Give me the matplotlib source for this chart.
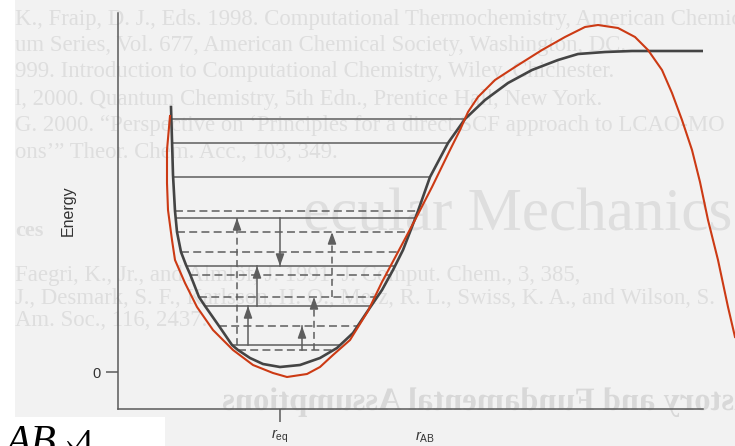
import numpy as np
import matplotlib.pyplot as plt
from matplotlib.patches import Rectangle, PathPatch
from matplotlib.textpath import TextPath
from matplotlib.font_manager import FontProperties
from matplotlib.transforms import Affine2D

plt.rcParams['mathtext.fontset'] = 'custom'
plt.rcParams['mathtext.rm'] = 'Liberation Sans'
plt.rcParams['mathtext.it'] = 'Liberation Sans:italic'

# potential energy curve (r, E)
r_curve = [0.53, 0.54, 0.55, 0.57, 0.59, 0.63, 0.68, 0.72, 0.81, 0.87, 1.01, 1.14, 1.20, 1.32, 1.45, 1.62,
           1.82, 2.02, 2.19, 2.35, 2.49, 2.64, 2.75, 2.85, 2.92, 3.00, 3.12, 3.30, 3.47, 3.67, 3.90, 4.14,
           4.40, 4.60, 4.87, 5.14, 5.86]
e_curve = [2.65, 2.32, 1.97, 1.61, 1.40, 1.20, 1.07, 0.98, 0.75, 0.66, 0.46, 0.27, 0.22, 0.14, 0.08, 0.05,
           0.07, 0.14, 0.24, 0.39, 0.60, 0.82, 1.02, 1.22, 1.40, 1.61, 1.95, 2.29, 2.53, 2.72, 2.89, 3.02,
           3.12, 3.18, 3.20, 3.21, 3.21]
i_min = 15

# red fitted curve
r_fit = [0.52, 0.49, 0.49, 0.50, 0.54, 0.57, 0.67, 0.79, 0.95, 1.15, 1.35, 1.55, 1.69, 1.89, 2.02, 2.15,
         2.32, 2.50, 2.64, 2.80, 2.97, 3.14, 3.32, 3.42, 3.50, 3.60, 3.77, 3.97, 4.24, 4.47, 4.67, 4.80,
         5.00, 5.17, 5.30, 5.44, 5.54, 5.64, 5.74, 5.82, 5.90, 6.00, 6.10, 6.17]
e_fit = [2.56, 2.22, 1.89, 1.62, 1.32, 1.12, 0.89, 0.65, 0.42, 0.22, 0.07, -0.01, -0.05, -0.02, 0.05, 0.17,
         0.32, 0.61, 0.90, 1.20, 1.52, 1.85, 2.22, 2.42, 2.60, 2.75, 2.92, 3.05, 3.22, 3.35, 3.45, 3.47,
         3.44, 3.35, 3.22, 3.02, 2.79, 2.52, 2.22, 1.90, 1.52, 1.12, 0.65, 0.35]

levels_solid = [2.53, 2.29, 1.95, 1.54, 1.06, 0.66, 0.27]
levels_dashed = [1.61, 1.40, 1.20, 0.97, 0.75, 0.46, 0.22]

# transitions: position, start level, end level, dashed?
arrow_r = [1.19, 1.62, 2.14, 1.39, 1.30, 1.96, 1.84]
arrow_from = [0.27, 1.54, 0.75, 0.66, 0.27, 0.22, 0.22]
arrow_to = [1.54, 1.06, 1.40, 1.06, 0.66, 0.75, 0.46]
arrow_dashed = [True, False, True, False, False, True, False]

r_eq = 1.62
r_ab = 3.07

W, H = 735, 446
fig = plt.figure(figsize=(7.35, 4.46), dpi=100)
fig.patch.set_facecolor('white')

# scanned page background
fig.add_artist(Rectangle((15 / W, 0), 1, 1, transform=fig.transFigure,
                         facecolor='#f2f2f2', edgecolor='none', zorder=-10))
fig.add_artist(Rectangle((0, 0), 165 / W, 29 / H, transform=fig.transFigure,
                         facecolor='white', edgecolor='none', zorder=-9))

faint = '#dedede'
page_lines = [
    (15, 20, "K., Fraip, D. J., Eds. 1998. Computational Thermochemistry, American Chemical"),
    (15, 46, "um Series, Vol. 677, American Chemical Society, Washington, DC."),
    (15, 72, "999. Introduction to Computational Chemistry, Wiley, Chichester."),
    (15, 99, "l, 2000. Quantum Chemistry, 5th Edn., Prentice Hall, New York."),
    (15, 126, "G. 2000. \u201cPerspective on \u2018Principles for a direct SCF approach to LCAO-MO"),
    (15, 152, "ons\u2019\u201d Theor. Chem. Acc., 103, 349."),
    (15, 276, "Faegri, K., Jr., and Almlöf, J. 1991. J. Comput. Chem., 3, 385,"),
    (15, 298, "J., Desmark, S. F., Karlsson, H. O., Merz, R. L., Swiss, K. A., and Wilson, S."),
    (15, 320, "Am. Soc., 116, 2437."),
]
for px, py, s in page_lines:
    fig.text(px / W, 1 - py / H, s, fontsize=16.4, family='Liberation Serif',
             color=faint, va='center', zorder=-8)
fig.text(15 / W, 1 - 231 / H, "ces", fontsize=16, family='Liberation Serif', weight='bold',
         color=faint, va='center', zorder=-8)
fig.text(303 / W, 1 - 216 / H, "ecular Mechanics", fontsize=44, family='Liberation Serif',
         color=faint, va='center', zorder=-8)

# heading showing through from the back of the page (mirrored)
tp = TextPath((0, 0), "History and Fundamental Assumptions", size=1,
              prop=FontProperties(family='Liberation Serif', weight='bold'))
ext = tp.get_extents()
size = 545 / ext.width
tr = Affine2D().scale(-size, size).translate(223 + size * ext.x1, 446 - 410)
fig.add_artist(PathPatch(tp, transform=tr, facecolor='#d8d8d8', edgecolor='none', zorder=-8))

# overlapping math text at bottom left
fig.text(5 / W, -8 / H, "AB", fontsize=30, family='Liberation Serif', style='italic',
         color='black', va='baseline')
fig.text(64 / W, -8 / H, "\u203a", fontsize=22, family='Liberation Serif',
         color='black', va='baseline')
fig.text(74 / W, -8 / H, "4", fontsize=26, family='Liberation Serif',
         color='black', va='baseline')
fig.text(100 / W, -8 / H, ".", fontsize=26, family='Liberation Serif',
         color='black', va='baseline')

ax = fig.add_axes([118 / W, 37 / H, 585 / W, 396 / H])
ax.patch.set_alpha(0)
ax.set_xlim(0, 5.85)
ax.set_ylim(-0.37, 3.59)

axis_col = '#5a5a5a'
level_col = '#5e5e5e'

# vibrational levels, bounded by the well
r_left = np.array(r_curve[:i_min + 1])
e_left = np.array(e_curve[:i_min + 1])
r_right = np.array(r_curve[i_min:])
e_right = np.array(e_curve[i_min:])
for E in levels_solid:
    xl = np.interp(E, e_left[::-1], r_left[::-1])
    xr = np.interp(E, e_right, r_right)
    ax.plot([xl, xr], [E, E], color=level_col, lw=1.1, solid_capstyle='butt')
for E in levels_dashed:
    xl = np.interp(E, e_left[::-1], r_left[::-1])
    xr = np.interp(E, e_right, r_right)
    ax.plot([xl, xr], [E, E], color=level_col, lw=1.1, linestyle=(0, (5.2, 2.8)))

for r, e0, e1, dashed in zip(arrow_r, arrow_from, arrow_to, arrow_dashed):
    ls = (0, (4.5, 2.8)) if dashed else '-'
    ax.plot([r, r], [e0, e1], color=level_col, lw=1.1, linestyle=ls)
    d = 0.1 if e1 > e0 else -0.1
    ax.annotate('', xy=(r, e1), xytext=(r, e1 - d),
                arrowprops=dict(arrowstyle='-|>,head_length=0.7,head_width=0.25',
                                color=level_col, lw=1.1, shrinkA=0, shrinkB=0))

ax.plot(r_curve, e_curve, color='#444444', lw=1.9, zorder=5)
ax.plot(r_fit, e_fit, color='#cc3a14', lw=1.5, zorder=6, clip_on=False)

for s in ['top', 'right']:
    ax.spines[s].set_visible(False)
for s in ['left', 'bottom']:
    ax.spines[s].set_color(axis_col)
    ax.spines[s].set_linewidth(1.1)

ax.set_yticks([0])
ax.set_yticklabels(['0'])
ax.set_xticks([r_eq])
ax.set_xticklabels(['$r_{\\mathrm{eq}}$'])
ax.tick_params(axis='y', length=8.6, width=1.1, color=axis_col, labelsize=10.5, pad=4)
ax.tick_params(axis='x', length=9.4, width=1.1, color=axis_col, labelsize=10.5, pad=4)
for lab in ax.get_xticklabels() + ax.get_yticklabels():
    lab.set_family('Liberation Sans')
    lab.set_color('#333333')

ax.text(r_ab, -0.071, '$r_{\\mathrm{AB}}$', transform=ax.get_xaxis_transform(),
        ha='center', va='center', fontsize=10.5, color='#333333')
ax.text(-0.085, 0.5, 'Energy', transform=ax.transAxes, rotation=90, ha='center', va='center',
        fontsize=11.5, family='Liberation Sans', color='#333333')

fig.savefig('out.png', dpi=100)
